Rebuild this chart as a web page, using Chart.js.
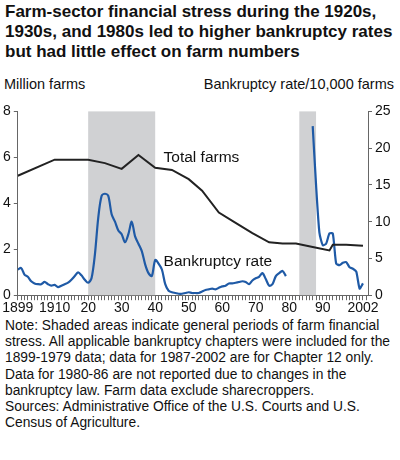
<!DOCTYPE html>
<html><head><meta charset="utf-8">
<script src="https://cdn.jsdelivr.net/npm/chart.js@4"></script>
<style>
body{margin:0;width:400px;height:460px;background:#fff;font-family:"Liberation Sans",Arial,sans-serif;color:#111;}
#title{position:absolute;left:5px;top:2px;width:392px;font-weight:bold;font-size:17px;line-height:20px;}
#lt{position:absolute;left:4px;top:76px;font-size:14.5px;}
#rt{position:absolute;right:6px;top:76px;font-size:14.5px;}
#wrap{position:absolute;left:0;top:100px;width:400px;height:217px;}
#note{position:absolute;left:5px;top:318px;width:394px;font-size:13.8px;line-height:16.2px;}
</style></head><body>
<div id="title">Farm-sector financial stress during the 1920s, 1930s, and 1980s led to higher bankruptcy rates but had little effect on farm numbers</div>
<div id="lt">Million farms</div><div id="rt">Bankruptcy rate/10,000 farms</div>
<div id="wrap"><canvas id="c"></canvas></div>
<div id="note">Note: Shaded areas indicate general periods of farm financial stress. All applicable bankruptcy chapters were included for the 1899-1979 data; data for 1987-2002 are for Chapter 12 only. Data for 1980-86 are not reported due to changes in the bankruptcy law. Farm data exclude sharecroppers.<br>Sources: Administrative Office of the U.S. Courts and U.S. Census of Agriculture.</div>
<script>
const farmYears=[1899,1910,1920,1925,1930,1935,1940,1945,1950,1954,1959,1964,1969,1974,1978,1982,1987,1992,1993,1997,2002];
const farmValues=[5.2,5.9,5.9,5.75,5.5,6.1,5.55,5.45,5.05,4.55,3.6,3.15,2.7,2.3,2.25,2.25,2.1,1.95,2.2,2.2,2.15];
const bankYears1=[];for(let y=1899;y<=1979;y++)bankYears1.push(y);
const bankValues1=[3.5,3.7,2.8,2.5,1.9,1.6,1.5,1.5,1.8,1.5,1.3,1.4,1.1,1.3,1.5,1.7,2.1,2.6,3.1,2.7,2.1,1.7,2.3,5.5,10.5,13.5,13.8,13.5,11,10,8.8,8.3,7.2,8.3,10,8,7,6,4.2,3.0,2.6,4.8,4.3,3.5,1.5,0.6,0.4,0.3,0.2,0.2,0.3,0.4,0.3,0.3,0.3,0.5,0.7,0.8,0.9,0.8,1.0,1.2,1.3,1.6,1.6,1.7,1.8,1.9,1.8,1.5,2.0,2.3,2.5,3.0,2.2,1.3,1.5,2.6,3.0,3.3,2.6];
const bankYears2=[1987,1988,1989,1990,1991,1992,1993,1994,1995,1996,1997,1998,1999,2000,2001,2002];
const bankValues2=[23,15,8.5,6.8,7,8.4,8.4,4.3,4.1,4.4,4.5,3.8,3.6,3.2,0.9,1.6];
const shaded=[[1920,1940],[1983,1988]];
const tickYears=[1899,1910,1920,1930,1940,1950,1960,1970,1980,1990,2002];
const tickLabels=["1899","1910","20","30","40","50","60","70","80","90","2002"];
const blue='#1f5aa6';
const shadePlugin={id:'shade',beforeDatasetsDraw(ch){const{ctx,scales:{x,y}}=ch;ctx.save();ctx.fillStyle='#d0d1d3';
 shaded.forEach(([a,b])=>{const x0=x.getPixelForValue(a),x1=x.getPixelForValue(b);ctx.fillRect(x0,y.getPixelForValue(8),x1-x0,y.getPixelForValue(0)-y.getPixelForValue(8));});ctx.restore();},
 afterDatasetsDraw(ch){const{ctx,scales:{x,y}}=ch;ctx.save();ctx.fillStyle='#111';ctx.font='15.5px "Liberation Sans",Arial';ctx.textBaseline='middle';
 ctx.fillText('Total farms',x.getPixelForValue(1942.5),y.getPixelForValue(6.0));ctx.fillText('Bankruptcy rate',x.getPixelForValue(1942.5),y.getPixelForValue(1.45));ctx.restore();}};
const pts=(xs,vs)=>xs.map((v,i)=>({x:v,y:vs[i]}));
new Chart(document.getElementById('c'),{type:'line',plugins:[shadePlugin],
data:{datasets:[
{data:pts(farmYears,farmValues),yAxisID:'y',borderColor:'#222',borderWidth:2,pointRadius:0,tension:0},
{data:pts(bankYears1,bankValues1),yAxisID:'y2',borderColor:blue,borderWidth:2.2,pointRadius:0,tension:0.3},
{data:pts(bankYears2,bankValues2),yAxisID:'y2',borderColor:blue,borderWidth:2.2,pointRadius:0,tension:0.2}]},
options:{responsive:true,maintainAspectRatio:false,animation:false,layout:{padding:{top:4,right:4,left:0,bottom:0}},
plugins:{legend:{display:false},tooltip:{enabled:false}},
scales:{
x:{type:'linear',min:1899,max:2003.5,
 afterBuildTicks(s){const t=[];for(let y=1899;y<=2003;y++)t.push({value:y});s.ticks=t;},
 ticks:{autoSkip:false,maxRotation:0,color:'#111',font:{size:14,family:'"Liberation Sans",Arial'},padding:0,
 callback(v){const i=tickYears.indexOf(v);return i>=0?tickLabels[i]:'';}},
 grid:{drawOnChartArea:false,tickLength:5,color:'#666'},border:{color:'#666'}},
y:{min:0,max:8,position:'left',ticks:{stepSize:2,color:'#111',font:{size:14,family:'"Liberation Sans",Arial'},padding:3},
 grid:{drawOnChartArea:false,tickLength:4,color:'#666'},border:{color:'#666'}},
y2:{min:0,max:25,position:'right',afterFit(s){s.width=28;},ticks:{stepSize:5,color:'#111',font:{size:14,family:'"Liberation Sans",Arial'},padding:3},
 grid:{drawOnChartArea:false,tickLength:4,color:'#666'},border:{color:'#666'}}}}});
</script></body></html>
